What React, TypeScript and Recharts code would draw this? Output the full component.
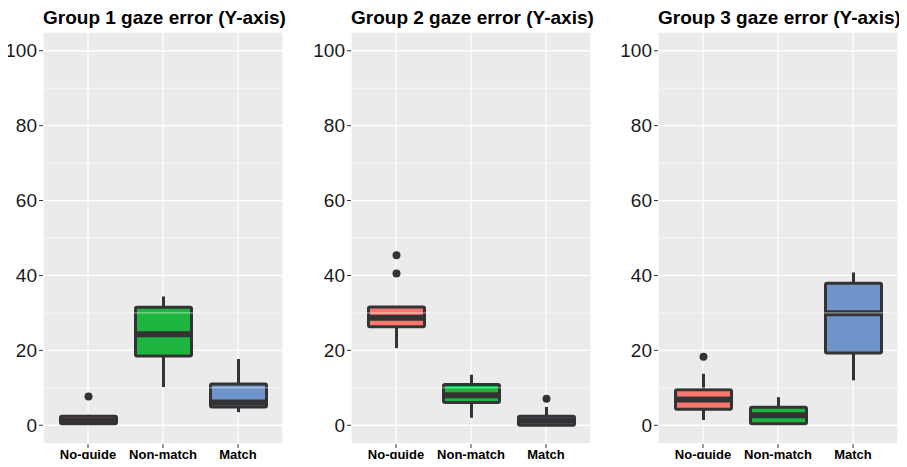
import React from "react";
import { ComposedChart, Bar, XAxis, YAxis, CartesianGrid, ReferenceLine } from "recharts";

const categories = ["No-guide", "Non-match", "Match"];
const yTicks = [0, 20, 40, 60, 80, 100];
const minorTicks = [10, 30, 50, 70, 90];

// five-number summaries per category: [low whisker, q1, median, q3, high whisker]
const group1Box = [
  [0.3, 0.4, 1.2, 2.4, 2.8],
  [10.2, 18.5, 24.3, 31.5, 34.4],
  [3.5, 4.9, 6.1, 11.0, 17.7],
];
const group1Outliers = [[7.7], [], []];

const group2Box = [
  [20.6, 26.3, 28.7, 31.6, 31.6],
  [2.0, 6.1, 8.0, 10.9, 13.5],
  [0, 0, 1.2, 2.4, 4.9],
];
const group2Outliers = [[40.5, 45.4], [], [7.1]];

const group3Box = [
  [1.4, 4.3, 6.9, 9.5, 13.75],
  [0.4, 0.4, 2.7, 4.8, 7.5],
  [12.0, 19.3, 29.9, 37.9, 40.8],
];
const group3Outliers = [[18.3], [], []];

const fills = ["#F8766D", "#1DB43F", "#6F93CB"];
const DARK = "#333333";

const panels = [
  { title: "Group 1 gaze error (Y-axis)", box: group1Box, outliers: group1Outliers, left: 0, yWidth: 43 },
  { title: "Group 2 gaze error (Y-axis)", box: group2Box, outliers: group2Outliers, left: 306, yWidth: 45 },
  { title: "Group 3 gaze error (Y-axis)", box: group3Box, outliers: group3Outliers, left: 613, yWidth: 45 },
];

const PLOT_W = 240;

function BoxShape(props: any) {
  const { x, y, width, height, payload } = props;
  const { low, q1, median, q3, high, outliers, fill } = payload;
  const unit = height / (high - low || 1);
  const toY = (v: number) => y + (high - v) * unit;
  const cx = x + width / 2;
  return (
    <g>
      <line x1={cx} x2={cx} y1={toY(high)} y2={toY(low)} stroke={DARK} strokeWidth={3} />
      <rect
        x={x}
        y={toY(q3)}
        width={width}
        height={Math.max(toY(q1) - toY(q3), 0.5)}
        fill={fill}
        stroke={DARK}
        strokeWidth={3}
        rx={1.5}
      />
      <line x1={x} x2={x + width} y1={toY(median)} y2={toY(median)} stroke={DARK} strokeWidth={6} />
      {outliers.map((o: number, i: number) => (
        <circle key={i} cx={cx} cy={toY(o)} r={4} fill={DARK} />
      ))}
    </g>
  );
}

function Panel({ title, box, outliers, left, yWidth }: any) {
  const rows = categories.map((name, i) => ({
    name,
    low: box[i][0],
    q1: box[i][1],
    median: box[i][2],
    q3: box[i][3],
    high: box[i][4],
    outliers: outliers[i],
    fill: fills[i],
  }));

  return (
    <div style={{ position: "absolute", left, top: 0 }}>
      <div
        style={{
          position: "absolute",
          left: yWidth,
          width: PLOT_W,
          top: 6,
          textAlign: "center",
          fontSize: 19,
          fontWeight: 700,
          lineHeight: "24px",
          whiteSpace: "nowrap",
          color: "#000",
        }}
      >
        {title}
      </div>
      <ComposedChart
        width={yWidth + PLOT_W + 2}
        height={467}
        data={rows}
        margin={{ top: 32, right: 2, bottom: 0, left: 0 }}
      >
        <CartesianGrid fill="#EBEBEB" stroke="#FFFFFF" strokeWidth={1.3} />
        {minorTicks.map((v) => (
          <ReferenceLine key={v} y={v} stroke="#FFFFFF" strokeWidth={0.6} />
        ))}
        <XAxis
          dataKey="name"
          interval={0}
          padding={{ left: 7.5, right: 7.5 }}
          height={23}
          axisLine={false}
          tickSize={4}
          tickMargin={2}
          tickLine={{ stroke: DARK }}
          tick={{ fontSize: 13, fontWeight: 700, fill: "#000" }}
        />
        <YAxis
          type="number"
          width={yWidth}
          domain={[-5, 105]}
          ticks={yTicks}
          allowDataOverflow
          axisLine={false}
          tickSize={4}
          tickLine={{ stroke: DARK }}
          tick={{ fontSize: 19, fill: "#1a1a1a" }}
        />
        <Bar
          dataKey={(d: any) => [d.low, d.high]}
          barSize={56}
          shape={BoxShape}
          isAnimationActive={false}
        />
      </ComposedChart>
    </div>
  );
}

export default function App() {
  return (
    <div
      style={{
        position: "relative",
        width: 907,
        height: 467,
        margin: -8,
        background: "#fff",
        fontFamily: "'Liberation Sans', Arial, sans-serif",
      }}
    >
      {panels.map((p) => (
        <Panel key={p.title} {...p} />
      ))}
    </div>
  );
}
